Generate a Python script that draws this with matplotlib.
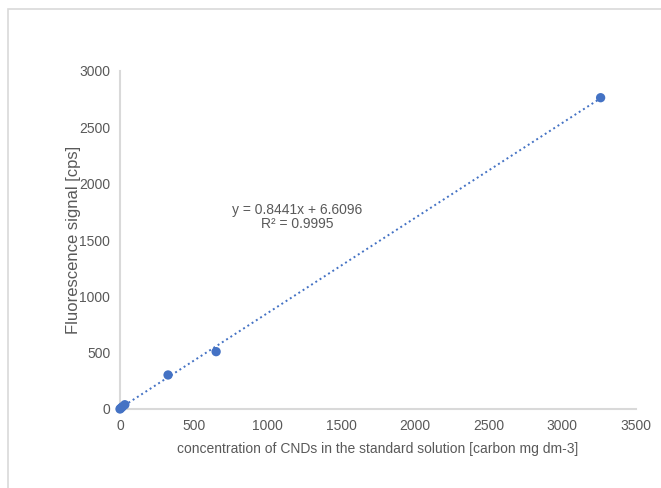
import numpy as np
import matplotlib.pyplot as plt
from matplotlib.patches import Rectangle

plt.rcParams['font.family'] = ['Liberation Sans', 'DejaVu Sans']

# Données de calibration
conc = [0, 6.5, 16.3, 32.6, 326, 652, 3260]
signal = [0, 8, 20, 38, 302, 509, 2763]
slope = 0.8441
intercept = 6.6096
r2 = 0.9995

x_ticks = [0, 500, 1000, 1500, 2000, 2500, 3000, 3500]
y_ticks = [0, 500, 1000, 1500, 2000, 2500, 3000]

blue = '#4472C4'
grey_text = '#595959'
grey_axis = '#D9D9D9'

fig = plt.figure(figsize=(6.61, 4.88), dpi=100)
ax = fig.add_axes([120 / 661, 1 - 409 / 488, 516 / 661, 338 / 488])

# cadre gris du graphique
fig.patches.append(Rectangle((8 / 661, -0.1), 1.1, 1 - 9 / 488 + 0.1,
                             transform=fig.transFigure, fill=False,
                             edgecolor='#D9D9D9', linewidth=1.2))

# courbe de tendance
x_line = np.linspace(0, max(conc), 100)
ax.plot(x_line, slope * x_line + intercept, linestyle=(0, (1, 1.6)),
        color=blue, linewidth=1.4, zorder=2)
ax.scatter(conc, signal, s=45, color=blue, zorder=3, edgecolors='none',
           clip_on=False)

ax.text(1200, 1700, f'y = {slope}x + {intercept}\nR² = {r2}', ha='center',
        va='center', fontsize=10, color=grey_text, linespacing=1.0)

ax.set_xlim(0, 3500)
ax.set_ylim(0, 3000)
ax.set_xticks(x_ticks)
ax.set_yticks(y_ticks)
ax.tick_params(length=0, labelsize=10, labelcolor=grey_text, pad=7)

ax.set_xlabel('concentration of CNDs in the standard solution [carbon mg dm-3]',
              fontsize=10, color=grey_text, labelpad=7)
ax.set_ylabel('Fluorescence signal [cps]', fontsize=12, color=grey_text, labelpad=-1)

ax.spines['top'].set_visible(False)
ax.spines['right'].set_visible(False)
ax.spines['left'].set_color(grey_axis)
ax.spines['bottom'].set_color(grey_axis)
ax.spines['left'].set_linewidth(1.5)
ax.spines['bottom'].set_linewidth(1.5)

fig.savefig('out.png', dpi=100)
